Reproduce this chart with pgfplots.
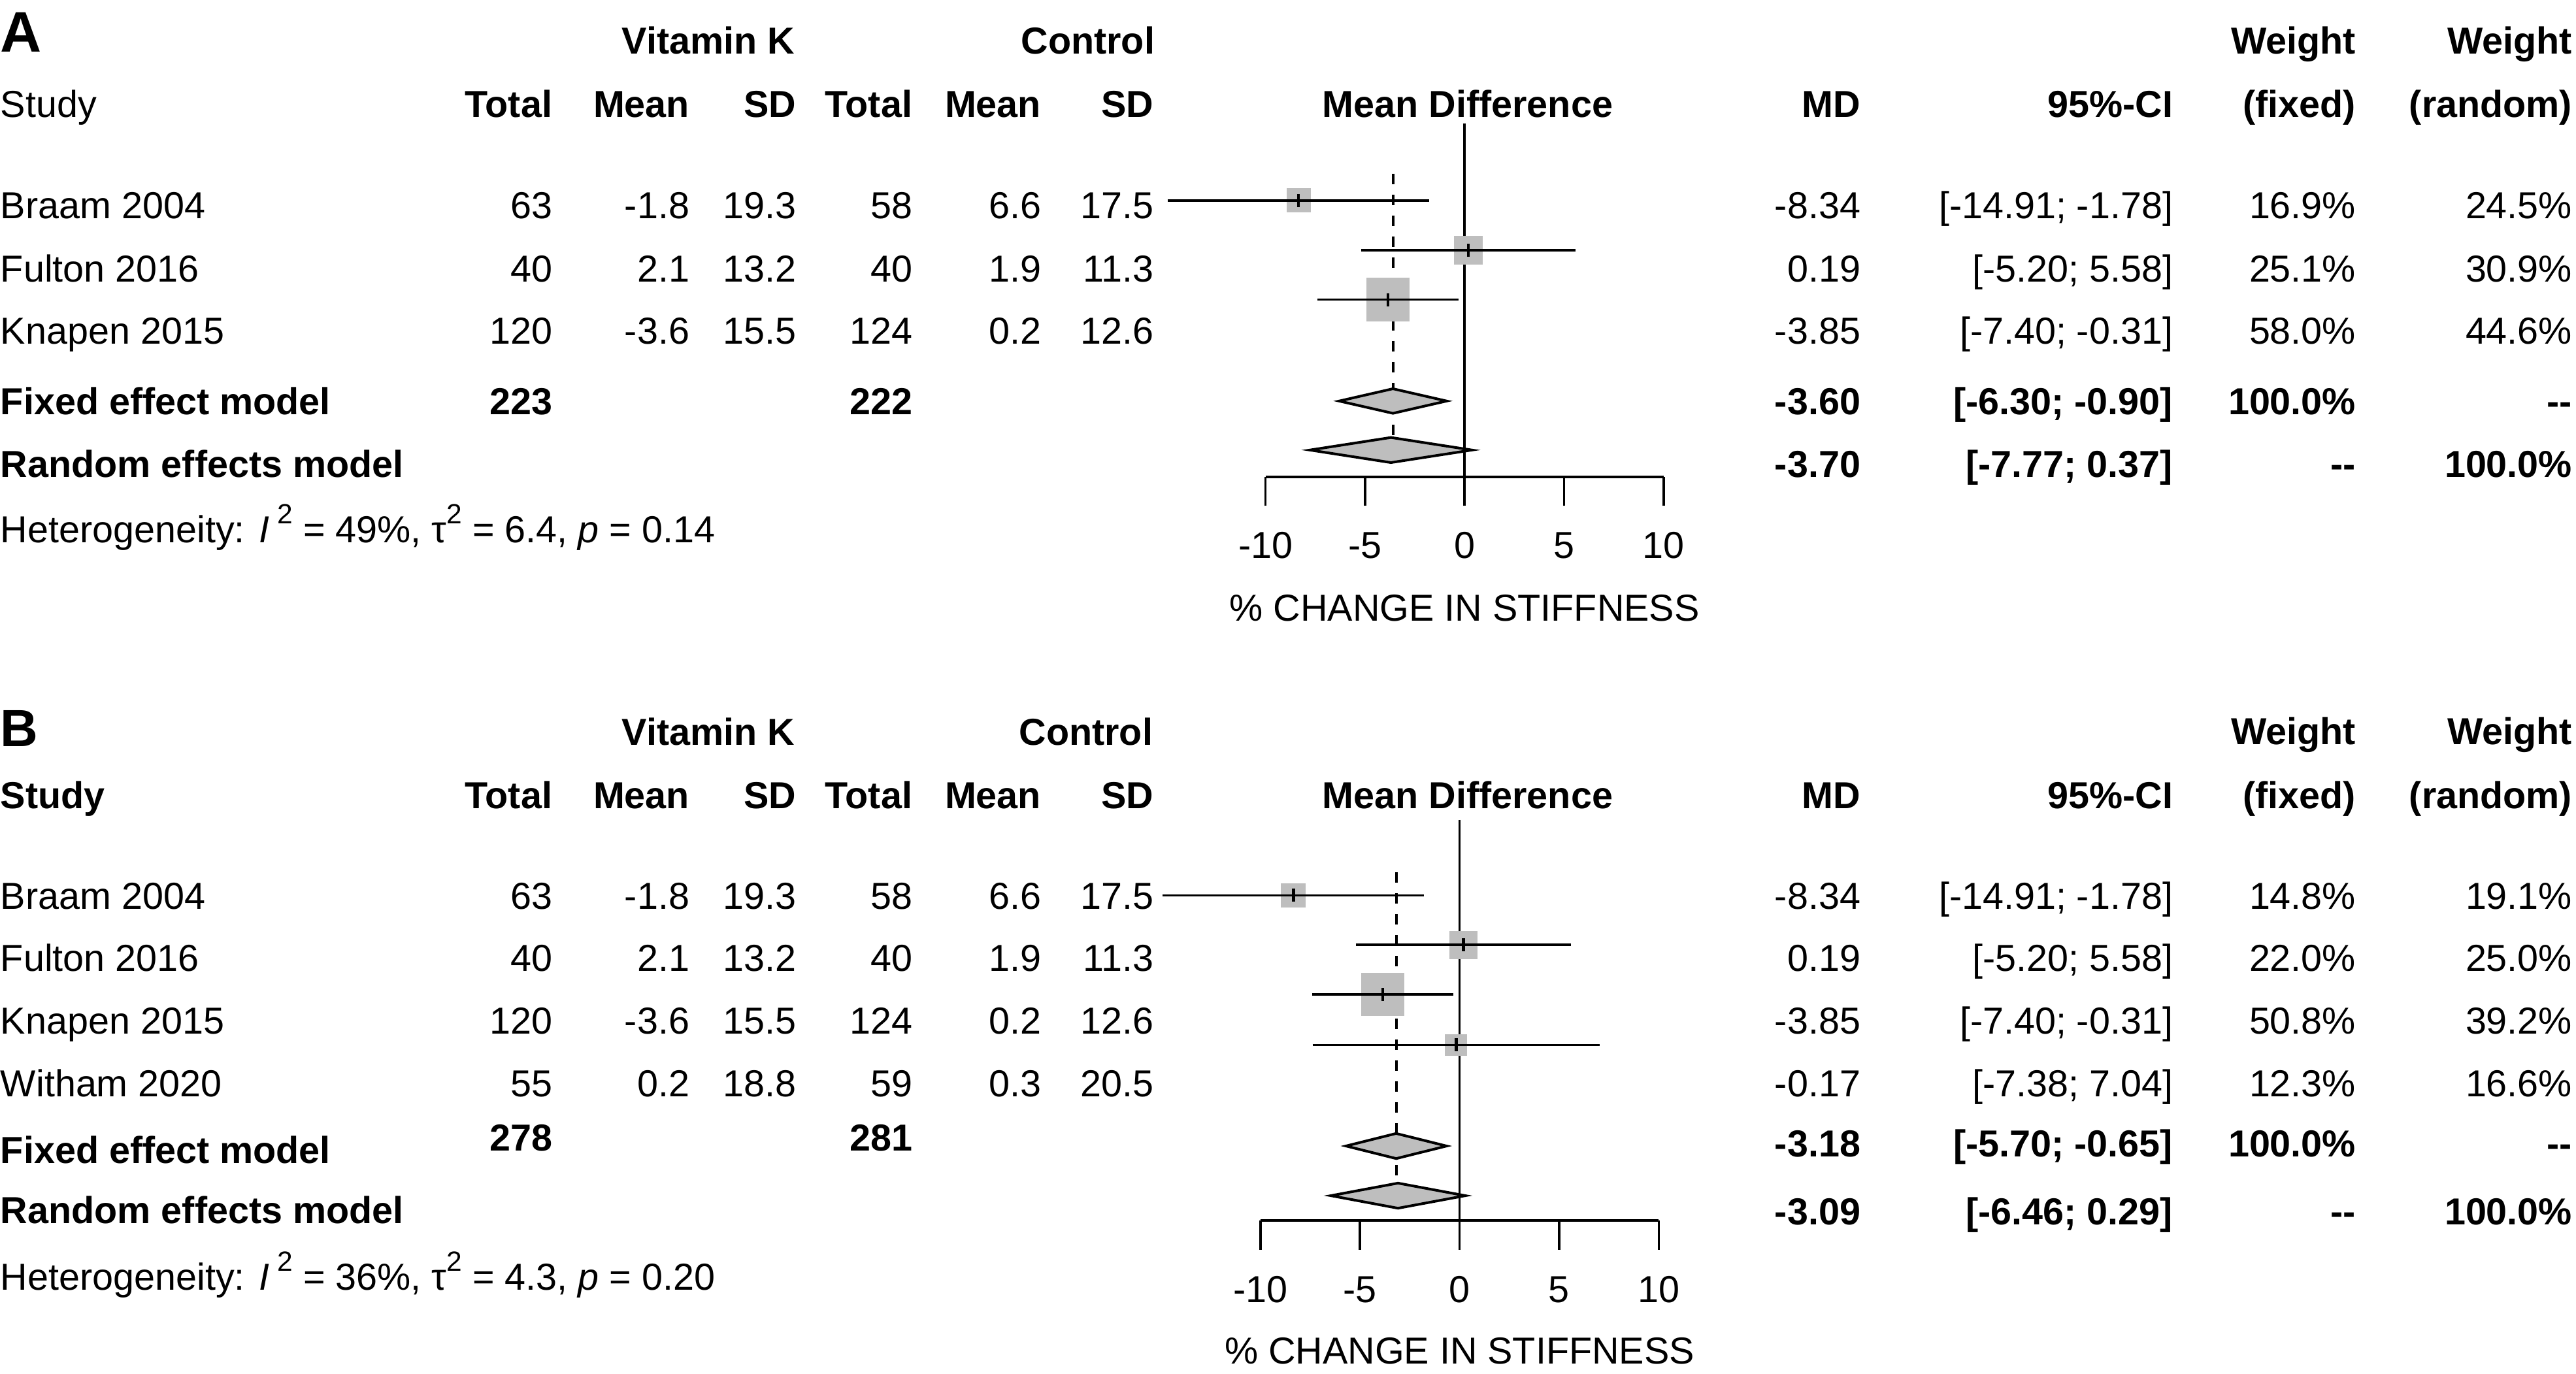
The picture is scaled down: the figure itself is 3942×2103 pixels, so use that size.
\documentclass[border=0pt]{standalone}
\usepackage{pgfplots}
\pgfplotsset{compat=1.18}
\usepackage{fontspec}
\setmainfont{Liberation Sans}
\definecolor{sq}{RGB}{190,190,190}
\newcommand\fs{\fontsize{11.5}{13.8}\selectfont}
\newcommand\sq{\raisebox{0.95ex}{\fontsize{8.5}{9}\selectfont 2}}
\begin{document}
\begin{tikzpicture}[font=\fs]
\tikzset{
  L/.style={anchor=base west, inner sep=0pt},
  R/.style={anchor=base east, inner sep=0pt},
  C/.style={anchor=base, inner sep=0pt},
  b/.style={font=\fs\bfseries},
}
\pgfplotsset{forest/.style={
  scale only axis, xmin=-10, xmax=10,
  axis x line=bottom, axis y line=none,
  axis line style={-, line width=0.75pt},
  xtick={-10,-5,0,5,10}, xticklabels={},
  tick align=outside, major tick length=8.9pt,
  every tick/.style={black, line width=0.75pt},
  clip=false,
},
sqbox/.style={fill=sq, draw=none},
estmark/.style={only marks, mark=|, mark size=2pt, line width=0.9pt, mark options={draw=black, line width=0.9pt}},
}

% ---------------- Panel A plot ----------------
\begin{axis}[forest, at={(387.3pt,-145.96pt)}, anchor=south west,
  width=121.88pt, height=108.08pt, ymin=-729.8, ymax=-189.4]
\addplot[line width=0.75pt] coordinates {(0,-189.4) (0,-729.8)};
\addplot[line width=0.8pt, dash pattern=on 3.2pt off 3.2pt] coordinates {(-3.60,-266) (-3.60,-689)};
% squares (area proportional to weight), centred on the estimates
\addplot[sqbox] coordinates {(-8.947,-325.3) (-7.733,-325.3) (-7.733,-288.3) (-8.947,-288.3)} -- cycle;
\addplot[sqbox] coordinates {(-0.527,-404.75) (0.907,-404.75) (0.907,-361.05) (-0.527,-361.05)} -- cycle;
\addplot[sqbox] coordinates {(-4.938,-491.75) (-2.762,-491.75) (-2.762,-425.45) (-4.938,-425.45)} -- cycle;
% confidence intervals
\addplot[line width=0.7pt] coordinates {(-14.91,-306.8) (-1.78,-306.8)};
\addplot[line width=0.7pt] coordinates {(-5.20,-382.9) (5.58,-382.9)};
\addplot[line width=0.7pt] coordinates {(-7.40,-458.6) (-0.31,-458.6)};
% point estimates
\addplot[estmark] coordinates {(-8.34,-306.8) (0.19,-382.9) (-3.85,-458.6)};
% diamonds
\addplot[fill=sq, draw=black, line width=0.8pt, line join=miter] coordinates {(-6.30,-613.8) (-3.60,-595.0) (-0.90,-613.8) (-3.60,-632.6)} -- cycle;
\addplot[fill=sq, draw=black, line width=0.8pt, line join=miter] coordinates {(-7.77,-688.8) (-3.70,-669.6) (0.37,-688.8) (-3.70,-708.0)} -- cycle;
% tick labels and axis label
\node[C] at (axis cs:-10,-854.7) {-10};
\node[C] at (axis cs:-5,-854.7) {-5};
\node[C] at (axis cs:0,-854.7) {0};
\node[C] at (axis cs:5,-854.7) {5};
\node[C] at (axis cs:10,-854.7) {10};
\node[C] at (axis cs:0,-950) {\% CHANGE IN STIFFNESS};
\end{axis}

% ---------------- Panel B plot ----------------
\begin{axis}[forest, at={(385.72pt,-373.6pt)}, anchor=south west,
  width=121.94pt, height=122.64pt, ymin=-1868, ymax=-1254.8]
\addplot[line width=0.75pt] coordinates {(0,-1254.8) (0,-1868)};
\addplot[line width=0.8pt, dash pattern=on 3.2pt off 3.2pt] coordinates {(-3.18,-1335) (-3.18,-1830)};
\addplot[sqbox] coordinates {(-8.957,-1389.2) (-7.723,-1389.2) (-7.723,-1351.6) (-8.957,-1351.6)} -- cycle;
\addplot[sqbox] coordinates {(-0.522,-1467.9) (0.902,-1467.9) (0.902,-1424.5) (-0.522,-1424.5)} -- cycle;
\addplot[sqbox] coordinates {(-4.938,-1555.25) (-2.762,-1555.25) (-2.762,-1488.95) (-4.938,-1488.95)} -- cycle;
\addplot[sqbox] coordinates {(-0.725,-1616.3) (0.385,-1616.3) (0.385,-1582.5) (-0.725,-1582.5)} -- cycle;
\addplot[line width=0.7pt] coordinates {(-14.91,-1370.4) (-1.78,-1370.4)};
\addplot[line width=0.7pt] coordinates {(-5.20,-1446.2) (5.58,-1446.2)};
\addplot[line width=0.7pt] coordinates {(-7.40,-1522.1) (-0.31,-1522.1)};
\addplot[line width=0.7pt] coordinates {(-7.38,-1599.4) (7.04,-1599.4)};
\addplot[estmark] coordinates {(-8.34,-1370.4) (0.19,-1446.2) (-3.85,-1522.1) (-0.17,-1599.4)};
\addplot[fill=sq, draw=black, line width=0.8pt, line join=miter] coordinates {(-5.70,-1754.0) (-3.18,-1734.8) (-0.65,-1754.0) (-3.18,-1773.2)} -- cycle;
\addplot[fill=sq, draw=black, line width=0.8pt, line join=miter] coordinates {(-6.46,-1830.0) (-3.09,-1810.8) (0.29,-1830.0) (-3.09,-1849.2)} -- cycle;
\node[C] at (axis cs:-10,-1993.6) {-10};
\node[C] at (axis cs:-5,-1993.6) {-5};
\node[C] at (axis cs:0,-1993.6) {0};
\node[C] at (axis cs:5,-1993.6) {5};
\node[C] at (axis cs:10,-1993.6) {10};
\node[C] at (axis cs:0,-2087.6) {\% CHANGE IN STIFFNESS};
\end{axis}

% ---------------- text (1 unit = one reference pixel) ----------------
\begin{scope}[x=0.2pt, y=-0.2pt]
\path[use as bounding box] (0,0) rectangle (3942,2103);

% Panel A
\node[L, font=\bfseries\fontsize{17.5}{20}\selectfont] at (0,80) {A};
\node[R,b] at (1217,83) {Vitamin K};
\node[R,b] at (1768,83) {Control};
\node[R,b] at (3606,83) {Weight};
\node[R,b] at (3937,83) {Weight};
\node[L] at (0,180) {Study};
\node[R,b] at (846,180) {Total};
\node[R,b] at (1056,180) {Mean};
\node[R,b] at (1219,180) {SD};
\node[R,b] at (1397,180) {Total};
\node[R,b] at (1594,180) {Mean};
\node[R,b] at (1766,180) {SD};
\node[C,b] at (2246,180) {Mean Difference};
\node[R,b] at (2848,180) {MD};
\node[R,b] at (3326,180) {95\%-CI};
\node[R,b] at (3606,180) {(fixed)};
\node[R,b] at (3937,180) {(random)};

\foreach \y/\s/\na/\ma/\sa/\nb/\mb/\sb/\md/\ci/\wf/\wr in {
  335/Braam 2004/63/-1.8/19.3/58/6.6/17.5/-8.34/{[-14.91; -1.78]}/16.9/24.5,
  431.5/Fulton 2016/40/2.1/13.2/40/1.9/11.3/0.19/{[-5.20; 5.58]}/25.1/30.9,
  527/Knapen 2015/120/-3.6/15.5/124/0.2/12.6/-3.85/{[-7.40; -0.31]}/58.0/44.6}{
  \node[L] at (0,\y) {\s};
  \node[R] at (846,\y) {\na};
  \node[R] at (1056,\y) {\ma};
  \node[R] at (1219,\y) {\sa};
  \node[R] at (1397,\y) {\nb};
  \node[R] at (1594,\y) {\mb};
  \node[R] at (1766,\y) {\sb};
  \node[R] at (2848,\y) {\md};
  \node[R] at (3326,\y) {\ci};
  \node[R] at (3606,\y) {\wf\%};
  \node[R] at (3937,\y) {\wr\%};
}
\node[L,b] at (0,634) {Fixed effect model};
\node[R,b] at (846,634) {223};
\node[R,b] at (1397,634) {222};
\node[R,b] at (2848,634) {-3.60};
\node[R,b] at (3326,634) {[-6.30; -0.90]};
\node[R,b] at (3606,634) {100.0\%};
\node[R,b] at (3937,634) {-{}-};
\node[L,b] at (0,731) {Random effects model};
\node[R,b] at (2848,731) {-3.70};
\node[R,b] at (3326,731) {[-7.77; 0.37]};
\node[R,b] at (3606,731) {-{}-};
\node[R,b] at (3937,731) {100.0\%};
\node[L] at (0,830) {Heterogeneity: \textit{I}\hspace{2.5pt}\sq{} = 49\%, τ\sq{} = 6.4, \textit{p} = 0.14};

% Panel B
\node[L, font=\bfseries\fontsize{16}{19}\selectfont] at (0,1142) {B};
\node[R,b] at (1217,1140) {Vitamin K};
\node[R,b] at (1765,1140) {Control};
\node[R,b] at (3606,1139) {Weight};
\node[R,b] at (3937,1139) {Weight};
\node[L,b] at (0,1237) {Study};
\node[R,b] at (846,1237) {Total};
\node[R,b] at (1056,1237) {Mean};
\node[R,b] at (1219,1237) {SD};
\node[R,b] at (1397,1237) {Total};
\node[R,b] at (1594,1237) {Mean};
\node[R,b] at (1766,1237) {SD};
\node[C,b] at (2246,1237) {Mean Difference};
\node[R,b] at (2848,1237) {MD};
\node[R,b] at (3326,1237) {95\%-CI};
\node[R,b] at (3606,1237) {(fixed)};
\node[R,b] at (3937,1237) {(random)};

\foreach \y/\s/\na/\ma/\sa/\nb/\mb/\sb/\md/\ci/\wf/\wr in {
  1391/Braam 2004/63/-1.8/19.3/58/6.6/17.5/-8.34/{[-14.91; -1.78]}/14.8/19.1,
  1486/Fulton 2016/40/2.1/13.2/40/1.9/11.3/0.19/{[-5.20; 5.58]}/22.0/25.0,
  1582/Knapen 2015/120/-3.6/15.5/124/0.2/12.6/-3.85/{[-7.40; -0.31]}/50.8/39.2,
  1678/Witham 2020/55/0.2/18.8/59/0.3/20.5/-0.17/{[-7.38; 7.04]}/12.3/16.6}{
  \node[L] at (0,\y) {\s};
  \node[R] at (846,\y) {\na};
  \node[R] at (1056,\y) {\ma};
  \node[R] at (1219,\y) {\sa};
  \node[R] at (1397,\y) {\nb};
  \node[R] at (1594,\y) {\mb};
  \node[R] at (1766,\y) {\sb};
  \node[R] at (2848,\y) {\md};
  \node[R] at (3326,\y) {\ci};
  \node[R] at (3606,\y) {\wf\%};
  \node[R] at (3937,\y) {\wr\%};
}
\node[L,b] at (0,1780) {Fixed effect model};
\node[R,b] at (846,1761) {278};
\node[R,b] at (1397,1761) {281};
\node[R,b] at (2848,1770) {-3.18};
\node[R,b] at (3326,1770) {[-5.70; -0.65]};
\node[R,b] at (3606,1770) {100.0\%};
\node[R,b] at (3937,1770) {-{}-};
\node[L,b] at (0,1872) {Random effects model};
\node[R,b] at (2848,1874) {-3.09};
\node[R,b] at (3326,1874) {[-6.46; 0.29]};
\node[R,b] at (3606,1874) {-{}-};
\node[R,b] at (3937,1874) {100.0\%};
\node[L] at (0,1974) {Heterogeneity: \textit{I}\hspace{2.5pt}\sq{} = 36\%, τ\sq{} = 4.3, \textit{p} = 0.20};
\end{scope}
\end{tikzpicture}
\end{document}
